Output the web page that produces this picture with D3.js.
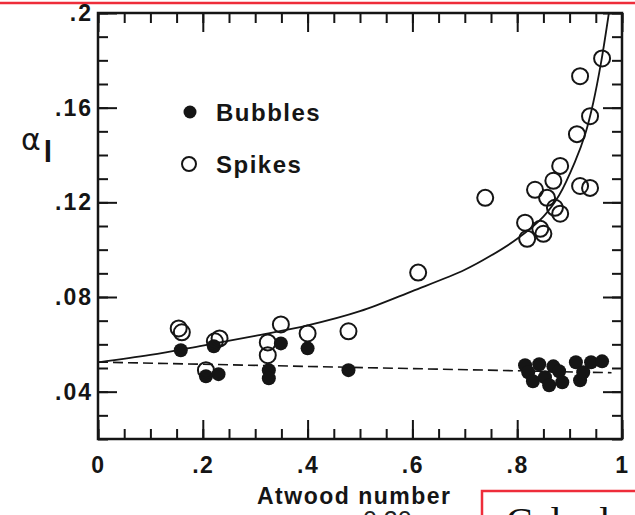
<!DOCTYPE html>
<html>
<head>
<meta charset="utf-8">
<script src="https://cdn.jsdelivr.net/npm/d3@7"></script>
<style>
  html, body { margin: 0; padding: 0; background: #fff; }
  svg { display: block; }
  .lbl { font-family: "Liberation Sans", Arial, sans-serif; font-weight: bold; fill: #151515; }
</style>
</head>
<body>
<svg id="chart" width="635" height="515"></svg>
<script>
// Atwood number of each run
const spikeAtwood = [0.154, 0.160, 0.223, 0.232, 0.206, 0.349, 0.324, 0.324, 0.400, 0.478,
  0.611, 0.739, 0.882, 0.869, 0.834, 0.857, 0.872, 0.882, 0.815, 0.844, 0.850, 0.819,
  0.920, 0.939, 0.914, 0.939, 0.920, 0.962];
const spikeAlpha = [0.0667, 0.0651, 0.0613, 0.0625, 0.0491, 0.0684, 0.0608, 0.0554, 0.0646, 0.0655,
  0.0903, 0.1219, 0.1354, 0.1291, 0.1253, 0.1219, 0.1177, 0.1152, 0.1114, 0.1088, 0.1067, 0.1046,
  0.1269, 0.1261, 0.1488, 0.1564, 0.1733, 0.1808];

const bubbleAtwood = [0.158, 0.221, 0.206, 0.230, 0.326, 0.326, 0.349, 0.400, 0.478,
  0.815, 0.821, 0.830, 0.842, 0.853, 0.861, 0.869, 0.880, 0.886, 0.912, 0.920, 0.926, 0.941, 0.962];
const bubbleAlpha = [0.0575, 0.0592, 0.0465, 0.0474, 0.0491, 0.0457, 0.0604, 0.0583, 0.0491,
  0.0512, 0.0482, 0.0444, 0.0516, 0.0461, 0.0427, 0.0507, 0.0486, 0.0440, 0.0524, 0.0448, 0.0482, 0.0524, 0.0528];

// fitted trend for spikes (solid) and bubbles (dashed)
const spikeFitAtwood = [0, 0.1, 0.2, 0.3, 0.4, 0.5, 0.6, 0.7, 0.75, 0.8,
  0.85, 0.88, 0.91, 0.93, 0.945, 0.96, 0.975];
const spikeFitAlpha = [0.0524, 0.0555, 0.0595, 0.0636, 0.0680, 0.0740, 0.0825, 0.0915, 0.0975, 0.1046,
  0.1140, 0.1230, 0.1370, 0.1490, 0.1620, 0.1790, 0.2000];
const bubbleFitAtwood = [0, 0.98];
const bubbleFitAlpha = [0.0525, 0.0480];

const xTicks = [0, 0.2, 0.4, 0.6, 0.8, 1];
const xTickLabels = ["0", ".2", ".4", ".6", ".8", "1"];
const yTicks = [0.04, 0.08, 0.12, 0.16, 0.2];
const yTickLabels = [".04", ".08", ".12", ".16", ".2"];
const xMinorTicks = d3.range(0, 1.0001, 0.05);
const yMinorTicks = d3.range(0.02, 0.2001, 0.01);

const legendItems = ["Bubbles", "Spikes"];

const svg = d3.select("#chart");
const ink = "#151515";

const x = d3.scaleLinear().domain([0, 1]).range([98, 622]);
const y = d3.scaleLinear().domain([0.02, 0.2]).range([439, 13]);

// marker strip across the top of the sheet
svg.append("line").attr("x1", 0).attr("x2", 635).attr("y1", 3).attr("y2", 3)
  .attr("stroke", "#ee2d3a").attr("stroke-width", 2.5);

function styleAxis(g) {
  g.select(".domain").remove();
  g.selectAll(".tick line").attr("stroke", ink).attr("stroke-width", 2);
}

// minor ticks, all four sides, pointing inward
svg.append("g").attr("transform", `translate(0,${y.range()[0]})`)
  .call(d3.axisBottom(x).tickValues(xMinorTicks).tickSize(-10).tickFormat(""))
  .call(styleAxis);
svg.append("g").attr("transform", `translate(0,${y.range()[1]})`)
  .call(d3.axisTop(x).tickValues(xMinorTicks).tickSize(-10).tickFormat(""))
  .call(styleAxis);
svg.append("g").attr("transform", `translate(${x.range()[0]},0)`)
  .call(d3.axisLeft(y).tickValues(yMinorTicks).tickSize(-10).tickFormat(""))
  .call(styleAxis);
svg.append("g").attr("transform", `translate(${x.range()[1]},0)`)
  .call(d3.axisRight(y).tickValues(yMinorTicks).tickSize(-10).tickFormat(""))
  .call(styleAxis);

// major ticks with labels
const xAxis = svg.append("g").attr("transform", `translate(0,${y.range()[0]})`)
  .call(d3.axisBottom(x).tickValues(xTicks).tickSize(-19).tickPadding(18)
    .tickFormat((d, i) => xTickLabels[i]))
  .call(styleAxis);
xAxis.selectAll("text").attr("class", "lbl").attr("font-size", 23)
  .style("letter-spacing", "1.5px").attr("fill", ink);

svg.append("g").attr("transform", `translate(0,${y.range()[1]})`)
  .call(d3.axisTop(x).tickValues(xTicks).tickSize(-19).tickFormat(""))
  .call(styleAxis);

const yAxis = svg.append("g").attr("transform", `translate(${x.range()[0]},0)`)
  .call(d3.axisLeft(y).tickValues(yTicks).tickSize(-19).tickPadding(5)
    .tickFormat((d, i) => yTickLabels[i]))
  .call(styleAxis);
yAxis.selectAll("text").attr("class", "lbl").attr("font-size", 23)
  .style("letter-spacing", "2px").attr("fill", ink);

svg.append("g").attr("transform", `translate(${x.range()[1]},0)`)
  .call(d3.axisRight(y).tickValues(yTicks).tickSize(-19).tickFormat(""))
  .call(styleAxis);

// plot frame
svg.append("rect")
  .attr("x", x.range()[0]).attr("y", y.range()[1])
  .attr("width", x.range()[1] - x.range()[0]).attr("height", y.range()[0] - y.range()[1])
  .attr("fill", "none").attr("stroke", ink).attr("stroke-width", 2.5);

// trend lines
const line = d3.line().x(d => x(d[0])).y(d => y(d[1])).curve(d3.curveCatmullRom.alpha(0.5));
svg.append("path")
  .datum(spikeFitAtwood.map((a, i) => [a, spikeFitAlpha[i]]))
  .attr("d", line).attr("fill", "none").attr("stroke", ink).attr("stroke-width", 1.8);
svg.append("path")
  .datum(bubbleFitAtwood.map((a, i) => [a, bubbleFitAlpha[i]]))
  .attr("d", d3.line().x(d => x(d[0])).y(d => y(d[1])))
  .attr("fill", "none").attr("stroke", ink).attr("stroke-width", 1.6)
  .attr("stroke-dasharray", "10,5");

// bubbles (filled) and spikes (open)
svg.append("g").selectAll("circle")
  .data(bubbleAtwood.map((a, i) => [a, bubbleAlpha[i]]))
  .join("circle")
  .attr("cx", d => x(d[0])).attr("cy", d => y(d[1])).attr("r", 7)
  .attr("fill", ink);
svg.append("g").selectAll("circle")
  .data(spikeAtwood.map((a, i) => [a, spikeAlpha[i]]))
  .join("circle")
  .attr("cx", d => x(d[0])).attr("cy", d => y(d[1])).attr("r", 8)
  .attr("fill", "none").attr("stroke", ink).attr("stroke-width", 2);

// legend
const legend = svg.append("g");
legend.append("circle").attr("cx", 190).attr("cy", 112).attr("r", 6.5).attr("fill", ink);
legend.append("circle").attr("cx", 189).attr("cy", 164).attr("r", 7)
  .attr("fill", "none").attr("stroke", ink).attr("stroke-width", 2);
legend.selectAll("text").data(legendItems).join("text")
  .attr("class", "lbl").attr("x", 216).attr("y", (d, i) => i === 0 ? 121 : 173)
  .attr("font-size", 24).style("letter-spacing", "1.5px").text(d => d);

// axis titles
svg.append("text").attr("class", "lbl").attr("x", 257).attr("y", 504)
  .attr("font-size", 23).style("letter-spacing", "1.5px").text("Atwood number");

const yTitle = svg.append("text").attr("x", 21).attr("y", 150)
  .attr("font-family", "'DejaVu Sans', sans-serif").attr("fill", ink);
yTitle.append("tspan").attr("font-size", 30).text("α");
yTitle.append("tspan").attr("font-size", 30).attr("font-weight", "bold")
  .attr("font-family", "'Liberation Sans', sans-serif")
  .attr("dx", 3).attr("dy", 12).text("l");

// partially visible note below the chart
svg.append("text").attr("x", 363).attr("y", 529).attr("font-size", 25)
  .attr("font-family", "'Liberation Sans', sans-serif").attr("fill", "#222").text("0.30");
svg.append("rect").attr("x", 482).attr("y", 491).attr("width", 200).attr("height", 60)
  .attr("fill", "#fff").attr("stroke", "#ee2d3a").attr("stroke-width", 2.5);
svg.append("text").attr("x", 506).attr("y", 535).attr("font-size", 40)
  .attr("font-family", "'Liberation Serif', serif").attr("fill", "#111").text("Calcul");
</script>
</body>
</html>
